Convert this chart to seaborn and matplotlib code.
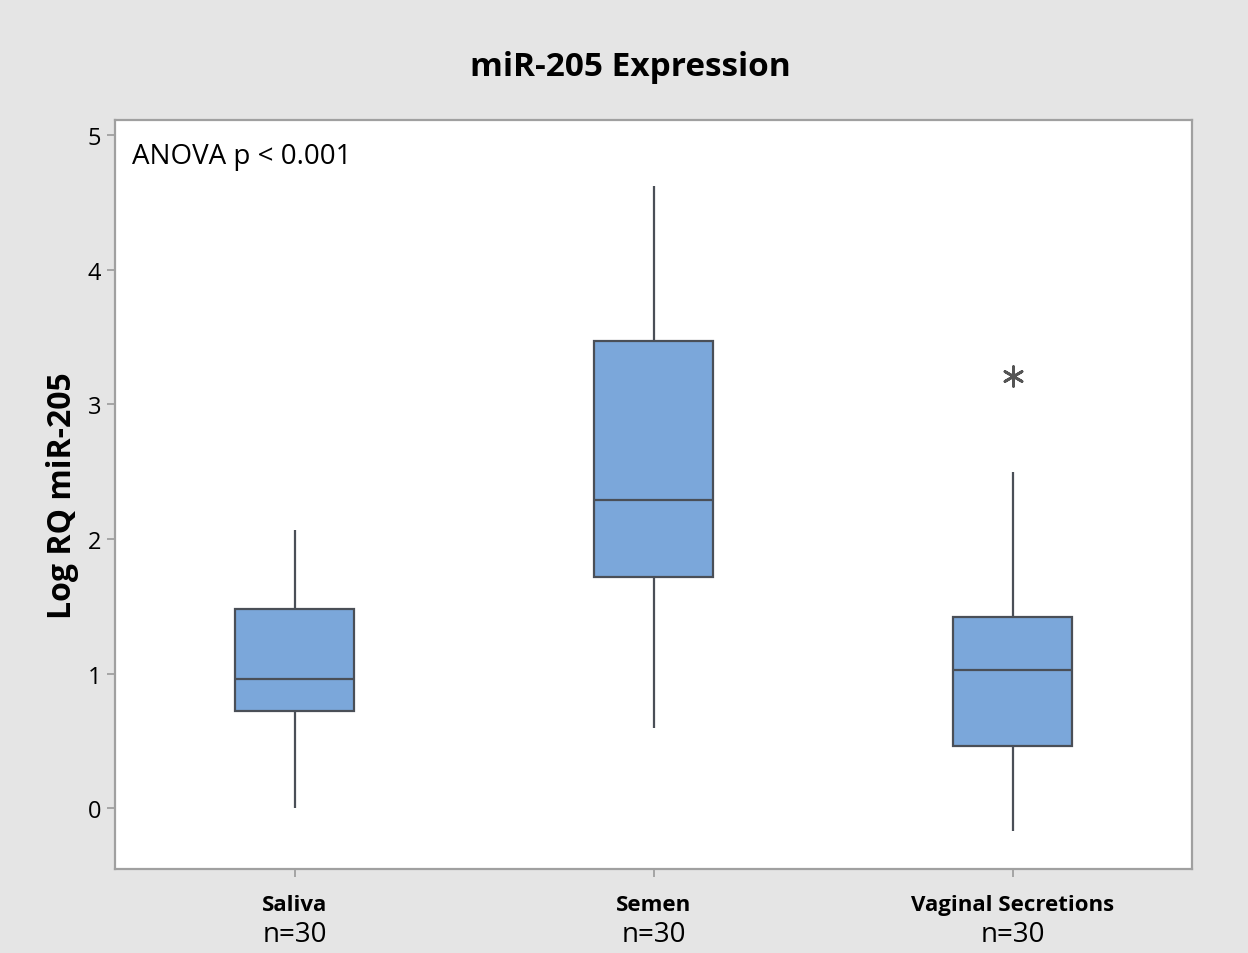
import numpy as np
import pandas as pd
import seaborn as sns
import matplotlib.pyplot as plt

# five-number summaries (min, Q1, median, Q3, max)
groups = ['Saliva', 'Semen', 'Vaginal Secretions']
n_labels = ['n=30', 'n=30', 'n=30']
saliva = [0.0, 0.72, 0.96, 1.48, 2.07]
semen = [0.60, 1.72, 2.29, 3.47, 4.62]
vaginal = [-0.17, 0.46, 1.03, 1.42, 2.50]
outlier_group = ['Vaginal Secretions']
outlier_value = [3.21]

data = pd.DataFrame({
    'group': np.repeat(groups, 5),
    'value': saliva + semen + vaginal,
})
outliers = pd.DataFrame({'group': outlier_group, 'value': outlier_value})

sns.set_style('white')
plt.rcParams['font.family'] = ['Open Sans', 'DejaVu Sans']
plt.rcParams['text.color'] = 'black'
plt.rcParams['axes.labelcolor'] = 'black'

fig = plt.figure(figsize=(12.48, 9.54), dpi=100, facecolor='#e5e5e5')
ax = fig.add_axes([115/1248, 1 - 870/954, 1077/1248, 749/954])
ax.set_facecolor('white')

edge = '#4a4f57'
sns.boxplot(data=data, x='group', y='value', order=groups, whis=np.inf,
            width=0.33, color='#7ba7da', saturation=1, linewidth=1.6,
            linecolor=edge, showcaps=False, ax=ax)
sns.scatterplot(data=outliers, x='group', y='value', marker=(6, 2, 0), s=200,
                color='#555555', linewidth=2.0, ax=ax)

ax.set_xlim(-0.5, 2.5)
ax.set_ylim(-0.45, 5.11)
ax.set_yticks([0, 1, 2, 3, 4, 5])
ax.set_xticks(range(len(groups)))
ax.set_xticklabels(groups, fontsize=16, fontweight='bold')
ax.tick_params(axis='both', direction='out', length=6, width=1.2, color='#9a9a9a',
               labelcolor='black', bottom=True, left=True)
ax.tick_params(axis='x', pad=12)
ax.tick_params(axis='y', labelsize=17, pad=4)

for i, lab in enumerate(n_labels):
    ax.text(i, -0.087, lab, transform=ax.get_xaxis_transform(), ha='center',
            va='center', fontsize=20)

for s in ax.spines.values():
    s.set_color('#a0a0a0')
    s.set_linewidth(1.6)

ax.set_xlabel('')
ax.set_ylabel('Log RQ miR-205', fontsize=23, fontweight='bold', labelpad=6)
ax.text(0.016, 0.97, 'ANOVA p < 0.001', transform=ax.transAxes,
        ha='left', va='top', fontsize=20)
fig.text(0.505, 1 - 68/954, 'miR-205 Expression', ha='center', va='center',
         fontsize=24, fontweight='bold')

fig.savefig('out.png', dpi=100, facecolor=fig.get_facecolor())
